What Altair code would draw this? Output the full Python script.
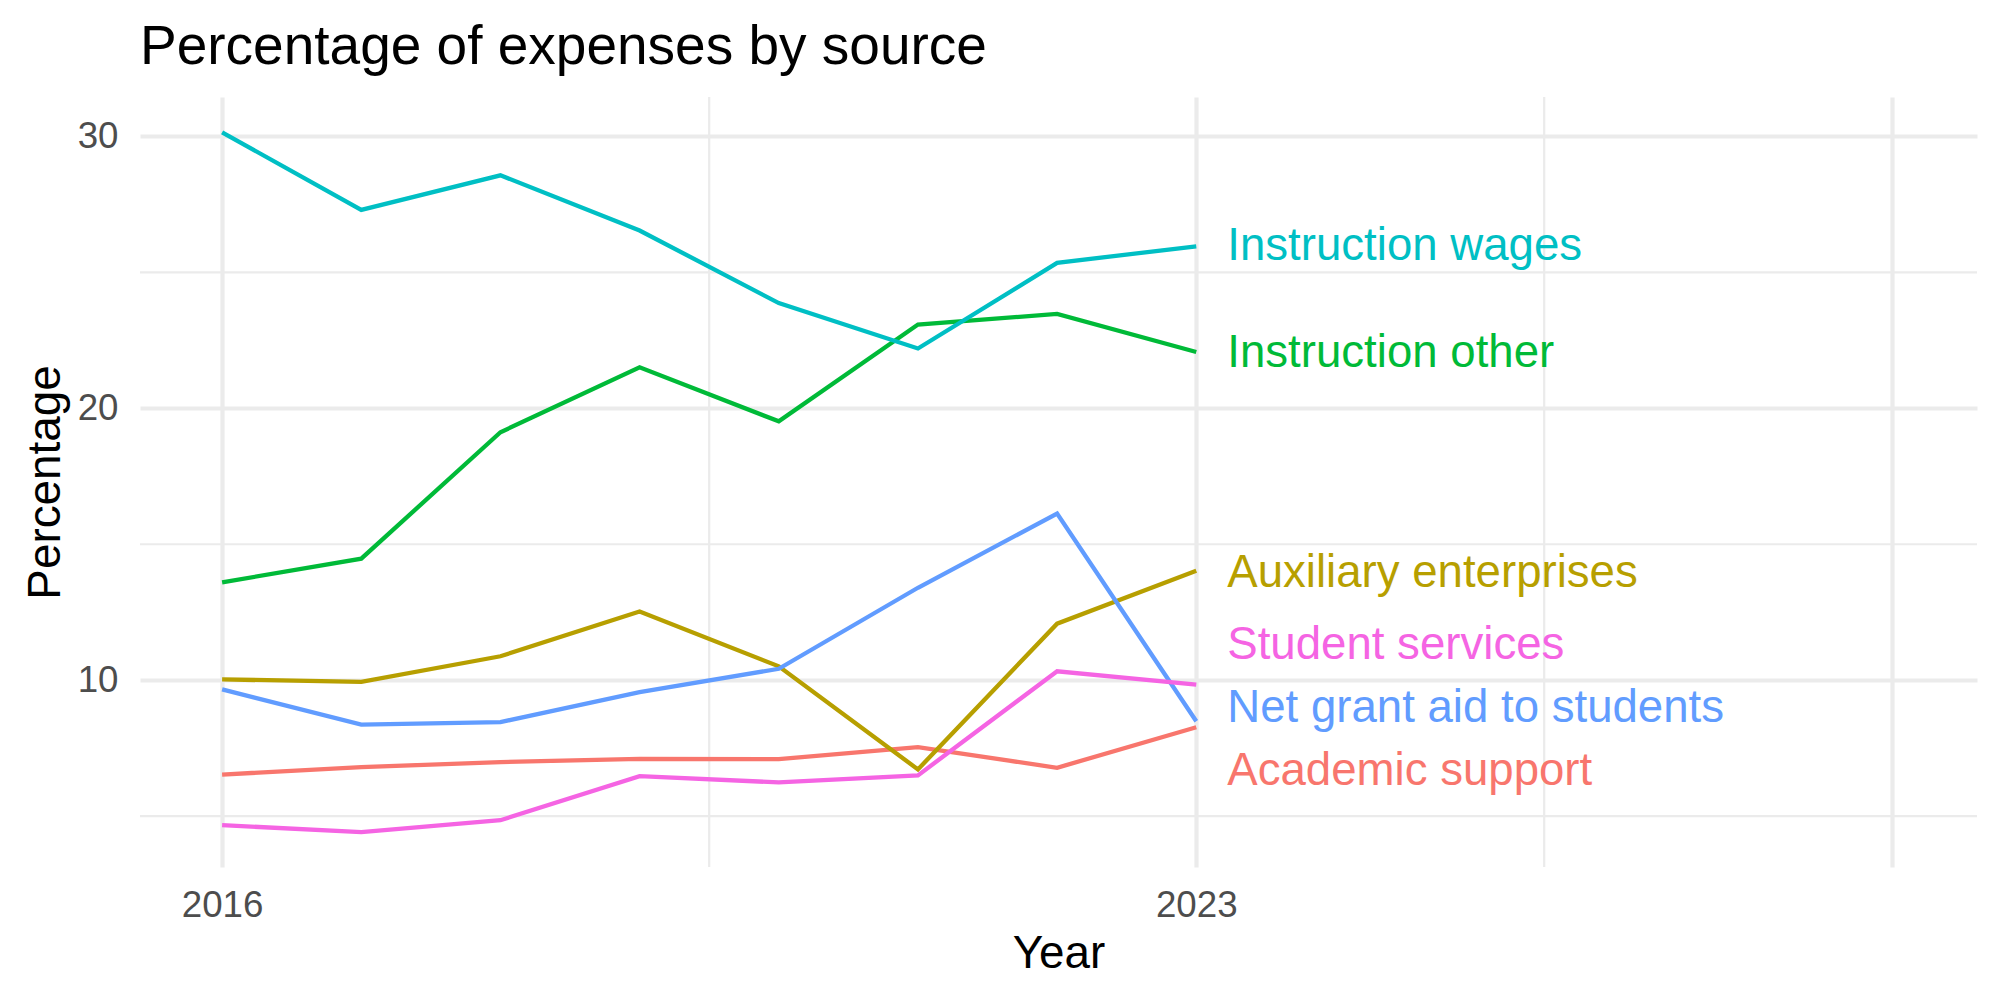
import altair as alt
import pandas as pd

# Expense shares (%) by source, 2016-2023
years = [2016, 2017, 2018, 2019, 2020, 2021, 2022, 2023]
academic_support = [6.53, 6.80, 6.99, 7.11, 7.10, 7.54, 6.78, 8.27]
auxiliary_enterprises = [10.03, 9.94, 10.88, 12.53, 10.51, 6.72, 12.08, 14.03]
instruction_other = [13.60, 14.47, 19.12, 21.51, 19.52, 23.08, 23.47, 22.07]
instruction_wages = [30.15, 27.30, 28.57, 26.54, 23.87, 22.20, 25.35, 25.96]
net_grant_aid = [9.66, 8.37, 8.46, 9.56, 10.42, 13.40, 16.13, 8.49]
student_services = [4.67, 4.41, 4.85, 6.47, 6.24, 6.50, 10.33, 9.84]

sources = [
    "Academic support",
    "Auxiliary enterprises",
    "Instruction other",
    "Instruction wages",
    "Net grant aid to students",
    "Student services",
]
series = [
    academic_support,
    auxiliary_enterprises,
    instruction_other,
    instruction_wages,
    net_grant_aid,
    student_services,
]
palette = ["#F8766D", "#B79F00", "#00BA38", "#00BFC4", "#619CFF", "#F564E3"]

# end-of-line label heights, spread apart so they don't overlap
label_y = [6.65, 13.95, 22.04, 25.96, 8.99, 11.31]

# grid positions
x_major = [2016, 2023, 2028]
x_minor = [2019.5, 2025.5]
y_major = [10, 20, 30]
y_minor = [5, 15, 25]

rows = []
for name, vals in zip(sources, series):
    for yr, v in zip(years, vals):
        rows.append({"Year": yr, "Percentage": v, "Source": name})
df = pd.DataFrame(rows)

labels = pd.DataFrame({
    "Year": [years[-1]] * len(sources),
    "Percentage": label_y,
    "Source": sources,
})

FONT = "Liberation Sans"
x_scale = alt.Scale(domain=[2015.41, 2028.61], nice=False, zero=False)
y_scale = alt.Scale(domain=[3.13, 31.45], nice=False, zero=False)
color = alt.Color("Source:N", scale=alt.Scale(domain=sources, range=palette), legend=None)

grid_color = "#EBEBEB"

xminor = alt.Chart(pd.DataFrame({"x": x_minor})).mark_rule(
    color=grid_color, strokeWidth=2.2
).encode(x=alt.X("x:Q", scale=x_scale))
yminor = alt.Chart(pd.DataFrame({"y": y_minor})).mark_rule(
    color=grid_color, strokeWidth=2.2
).encode(y=alt.Y("y:Q", scale=y_scale))

lines = alt.Chart(df).mark_line(strokeWidth=4.3).encode(
    x=alt.X(
        "Year:Q",
        scale=x_scale,
        title="Year",
        axis=alt.Axis(
            values=x_major,
            labelExpr="datum.value == 2028 ? '' : datum.value",
            format="d",
        ),
    ),
    y=alt.Y(
        "Percentage:Q",
        scale=y_scale,
        title="Percentage",
        axis=alt.Axis(values=y_major),
    ),
    color=color,
)

text = alt.Chart(labels).mark_text(
    align="left", baseline="middle", dx=31, fontSize=45.6, font=FONT
).encode(
    x=alt.X("Year:Q", scale=x_scale),
    y=alt.Y("Percentage:Q", scale=y_scale),
    text="Source:N",
    color=color,
)

chart = (
    alt.layer(xminor, yminor, lines, text)
    .properties(
        width=1837,
        height=770,
        title=alt.TitleParams(
            "Percentage of expenses by source",
            anchor="start",
            frame="group",
            font=FONT,
            fontSize=55,
            fontWeight="normal",
            color="#000000",
            baseline="alphabetic",
            offset=-23,
        ),
        autosize=alt.AutoSizeParams(type="none"),
        padding={"left": 140, "top": 97, "right": 23, "bottom": 133},
    )
    .configure_view(stroke=None)
    .configure_axis(
        grid=True,
        gridColor=grid_color,
        gridWidth=4.2,
        domain=False,
        ticks=False,
        tickSize=0,
        labelFont=FONT,
        labelFontSize=36.7,
        labelColor="#4D4D4D",
        titleFont=FONT,
        titleFontSize=45.8,
        titleFontWeight="normal",
        titleColor="#000000",
    )
    .configure_axisX(labelPadding=20, titlePadding=8)
    .configure_axisY(labelPadding=22, titlePadding=8)
)

chart.save("out.html", embed_options={"renderer": "svg", "actions": False})
